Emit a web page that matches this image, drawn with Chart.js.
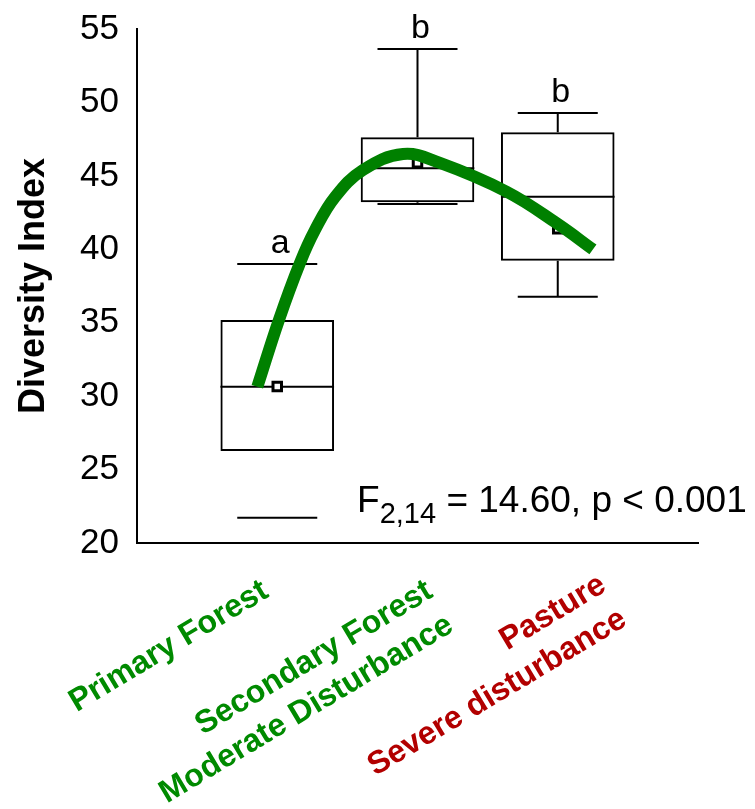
<!DOCTYPE html>
<html>
<head>
<meta charset="utf-8">
<script src="https://cdn.jsdelivr.net/npm/chart.js@4.4.1/dist/chart.umd.min.js"></script>
<style>
  html, body { margin: 0; padding: 0; background: #ffffff; }
  #wrap { width: 755px; height: 809px; position: relative; }
</style>
</head>
<body>
<div id="wrap"><canvas id="c" width="755" height="809"></canvas></div>
<script>
// ---------------- data ----------------
const categoryLines = [
  ['Primary Forest'],
  ['Secondary Forest', 'Moderate Disturbance'],
  ['Pasture', 'Severe disturbance']
];
const positions   = [1, 2, 3];
const whiskerMin  = [21.72, 43.08, 36.77];
const q1          = [26.27, 43.20, 39.22];
const median      = [30.64, 45.51, 43.58];
const q3          = [35.19, 47.63, 47.97];
const whiskerMax  = [39.00, 53.64, 49.28];
const means       = [30.66, 45.90, 41.40];
const sigLetters  = ['a', 'b', 'b'];
const yTickValues = [20, 25, 30, 35, 40, 45, 50, 55];
// fitted trend curve
const curveX = [0.858, 1.012, 1.162, 1.269, 1.412, 1.611, 1.897, 2.160, 2.636, 2.993, 3.251];
const curveY = [30.64, 35.19, 39.07, 41.31, 43.56, 45.40, 46.49, 45.88, 43.92, 41.77, 39.99];
const statMain = 'F';
const statSub = '2,14';
const statRest = ' = 14.60, p < 0.001';

// ---------------- style / layout ----------------
const FONT = '"Liberation Sans", Arial, Helvetica, sans-serif';
const GREEN = '#008000';
const labelColors = ['#008a00', '#008a00', '#b20000'];
const showStems = [false, true, true];
const CAP_HALF = 40;
const LABEL_DX = [-7, 17, 50];
const LABEL_DY = [53, 53, 47];
const LABEL_ANGLE = 31 * Math.PI / 180;
const LABEL_LINE = 40;
const LABEL_FONT = 'bold 32px ' + FONT;
const STAT_POS = { x: 1.569, y: 22.13 };

const boxData = positions.map((p, i) => ({ x: p, y: [q1[i], q3[i]] }));
const meanData = positions.map((p, i) => ({ x: p, y: means[i] }));
const curveData = curveX.map((x, i) => ({ x: x, y: curveY[i] }));

const boxPlugin = {
  id: 'boxParts',
  afterDatasetDraw(chart, args) {
    if (args.meta.type !== 'bar') return;
    const { ctx, scales: { x, y } } = chart;
    ctx.save();
    ctx.strokeStyle = '#000';
    ctx.lineCap = 'butt';
    ctx.lineWidth = 2;
    args.meta.data.forEach((bar, i) => {
      const cx = x.getPixelForValue(positions[i]);
      const half = bar.width / 2;
      const yMed = y.getPixelForValue(median[i]);
      const yQ1 = y.getPixelForValue(q1[i]);
      const yQ3 = y.getPixelForValue(q3[i]);
      const yMin = y.getPixelForValue(whiskerMin[i]);
      const yMax = y.getPixelForValue(whiskerMax[i]);
      ctx.beginPath();
      ctx.moveTo(cx - half, yMed); ctx.lineTo(cx + half, yMed);
      ctx.stroke();
      if (showStems[i]) {
        ctx.beginPath();
        ctx.moveTo(cx, yQ3); ctx.lineTo(cx, yMax);
        ctx.moveTo(cx, yQ1); ctx.lineTo(cx, yMin);
        ctx.stroke();
      }
      ctx.beginPath();
      ctx.moveTo(cx - CAP_HALF, yMax); ctx.lineTo(cx + CAP_HALF, yMax);
      ctx.moveTo(cx - CAP_HALF, yMin); ctx.lineTo(cx + CAP_HALF, yMin);
      ctx.stroke();
    });
    ctx.restore();
  },
  afterDraw(chart) {
    const { ctx, scales: { x, y } } = chart;
    ctx.save();
    // significance letters
    ctx.fillStyle = '#000';
    ctx.font = '34px ' + FONT;
    ctx.textAlign = 'center';
    ctx.textBaseline = 'alphabetic';
    positions.forEach((p, i) => {
      ctx.fillText(sigLetters[i], x.getPixelForValue(p) + 3, y.getPixelForValue(whiskerMax[i]) - 11);
    });
    // statistic
    const sx = x.getPixelForValue(STAT_POS.x);
    const sy = y.getPixelForValue(STAT_POS.y);
    ctx.textAlign = 'left';
    ctx.font = '37px ' + FONT;
    ctx.fillText(statMain, sx, sy);
    let w = ctx.measureText(statMain).width;
    ctx.font = '29px ' + FONT;
    ctx.fillText(statSub, sx + w, sy + 11);
    w += ctx.measureText(statSub).width;
    ctx.font = '37px ' + FONT;
    ctx.fillText(statRest, sx + w, sy);
    // category labels
    ctx.font = LABEL_FONT;
    ctx.textAlign = 'right';
    categoryLines.forEach((lines, i) => {
      const px = x.getPixelForValue(positions[i]) + LABEL_DX[i];
      const py = y.bottom + LABEL_DY[i];
      ctx.save();
      ctx.translate(px, py);
      ctx.rotate(-LABEL_ANGLE);
      ctx.fillStyle = labelColors[i];
      lines.forEach((t, j) => ctx.fillText(t, 0, j * LABEL_LINE));
      ctx.restore();
    });
    ctx.restore();
  }
};

new Chart(document.getElementById('c'), {
  type: 'bar',
  data: {
    datasets: [
      {
        type: 'line',
        data: curveData,
        borderColor: GREEN,
        borderWidth: 12,
        borderCapStyle: 'butt',
        pointRadius: 0,
        fill: false,
        tension: 0.4,
        order: 0
      },
      {
        type: 'scatter',
        data: meanData,
        pointStyle: 'rect',
        pointRadius: 6,
        borderWidth: 3,
        borderColor: '#000',
        backgroundColor: '#fff',
        order: 1
      },
      {
        type: 'bar',
        data: boxData,
        backgroundColor: 'rgba(0,0,0,0)',
        borderColor: '#000',
        borderWidth: 2,
        borderSkipped: false,
        barPercentage: 0.81,
        categoryPercentage: 1,
        order: 2
      }
    ]
  },
  options: {
    responsive: false,
    animation: false,
    events: [],
    layout: { padding: { left: 0, top: 29, right: 57, bottom: 0 } },
    plugins: { legend: { display: false }, tooltip: { enabled: false }, title: { display: false } },
    scales: {
      x: {
        type: 'linear',
        min: 0, max: 4,
        offset: false,
        afterBuildTicks: s => { s.ticks = [0, 1, 2, 3, 4].map(v => ({ value: v })); },
        afterFit: s => { s.height = 809 - 543; s.paddingLeft = 0; s.paddingRight = 0; },
        ticks: { display: false },
        grid: { display: false, drawTicks: false, offset: false },
        border: { display: true, color: '#000', width: 2 }
      },
      y: {
        type: 'linear',
        min: 20, max: 55,
        afterBuildTicks: s => { s.ticks = yTickValues.map(v => ({ value: v })); },
        afterFit: s => { s.width = 137; s.paddingTop = 0; s.paddingBottom = 0; },
        ticks: { color: '#000', padding: 18, font: { family: FONT, size: 35 } },
        grid: { display: false, drawTicks: false },
        border: { display: true, color: '#000', width: 2 },
        title: {
          display: true,
          text: 'Diversity Index',
          color: '#000',
          font: { family: FONT, size: 36, weight: 'bold' },
          padding: { top: 12, bottom: 0 }
        }
      }
    }
  },
  plugins: [boxPlugin]
});
</script>
</body>
</html>
